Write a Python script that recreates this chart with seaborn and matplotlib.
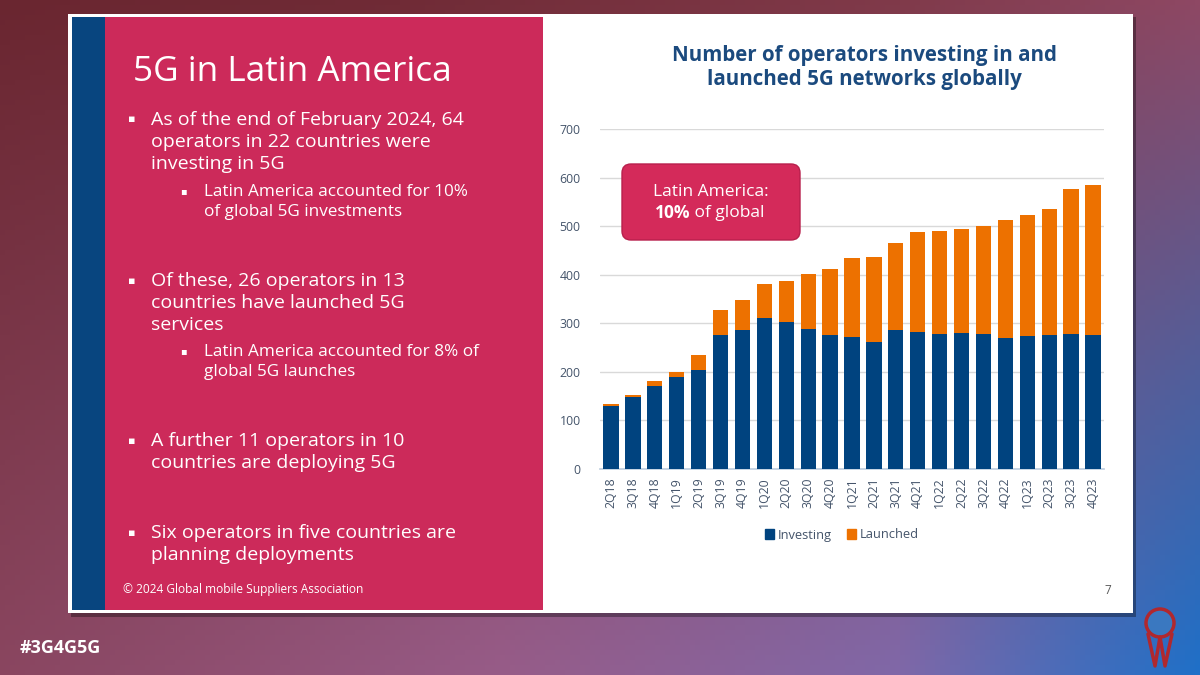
import numpy as np
import pandas as pd
import seaborn as sns
import matplotlib.pyplot as plt
from matplotlib.patches import Rectangle, FancyBboxPatch, Patch, Circle

# data
quarters = ["2Q18", "3Q18", "4Q18", "1Q19", "2Q19", "3Q19", "4Q19", "1Q20",
            "2Q20", "3Q20", "4Q20", "1Q21", "2Q21", "3Q21", "4Q21", "1Q22",
            "2Q22", "3Q22", "4Q22", "1Q23", "2Q23", "3Q23", "4Q23"]
investing = [130, 148, 171, 190, 204, 276, 286, 310, 303, 288, 275, 272,
             262, 286, 282, 277, 279, 277, 270, 273, 275, 277, 275]
launched = [3, 5, 10, 10, 30, 51, 61, 71, 84, 113, 136, 162,
            175, 179, 206, 213, 216, 223, 243, 250, 260, 300, 309]

bullets = [
    (120, ["As of the end of February 2024, 64", "operators in 22 countries were", "investing in 5G"]),
    (281, ["Of these, 26 operators in 13", "countries have launched 5G", "services"]),
    (441, ["A further 11 operators in 10", "countries are deploying 5G"]),
    (533, ["Six operators in five countries are", "planning deployments"]),
]
subbullets = [
    (192, ["Latin America accounted for 10%", "of global 5G investments"]),
    (352, ["Latin America accounted for 8% of", "global 5G launches"]),
]

df = pd.DataFrame({"quarter": quarters, "investing": investing, "launched": launched})
df["total"] = df["investing"] + df["launched"]

BLUE = "#00437f"
ORANGE = "#ed7100"
CRIMSON = "#cc2a5a"
TICK = "#44546a"

sns.set_theme(style="white")
plt.rcParams["font.family"] = ["Open Sans", "DejaVu Sans"]

fig = plt.figure(figsize=(12, 6.75), dpi=100)

# background axes in pixel coordinates
bg = fig.add_axes([0, 0, 1, 1], zorder=0)
bg.set_xlim(0, 1200)
bg.set_ylim(675, 0)
bg.axis("off")

# gradient background
xs = np.linspace(0, 1200, 240)
top = np.array([np.interp(xs, [0, 400, 900, 1200], c) for c in
                zip(*[(0x6a, 0x26, 0x30), (0x70, 0x2b, 0x36), (0x80, 0x3a, 0x4a), (0x8e, 0x48, 0x64)])]).T
bot = np.array([np.interp(xs, [0, 500, 900, 1200], c) for c in
                zip(*[(0x8a, 0x46, 0x60), (0x97, 0x5c, 0x88), (0x80, 0x68, 0xa8), (0x1f, 0x70, 0xc8)])]).T
t = np.linspace(0, 1, 135)[:, None, None]
grad = ((1 - t) * top[None] + t * bot[None]) / 255
bg.imshow(grad, extent=(0, 1200, 675, 0), aspect="auto", zorder=0)

# slide
bg.add_patch(Rectangle((71, 17), 1065, 600, color="#00000055", lw=0, zorder=1))
bg.add_patch(Rectangle((68, 14), 1065, 599, color="white", lw=0, zorder=2))
bg.add_patch(Rectangle((72, 17), 34, 593, color="#08457f", lw=0, zorder=3))
bg.add_patch(Rectangle((105, 17), 438, 593, color=CRIMSON, lw=0, zorder=3))

bg.text(133, 72, "5G in Latin America", color="white", fontsize=25.3, va="center", zorder=4)
for y0, lines in bullets:
    bg.text(128, y0, "\u25aa", color="white", fontsize=8, va="center", zorder=4)
    for i, line in enumerate(lines):
        bg.text(151, y0 + i * 22, line, color="white", fontsize=14, va="center", zorder=4)
for y0, lines in subbullets:
    bg.text(180, y0, "\u25aa", color="white", fontsize=7, va="center", zorder=4)
    for i, line in enumerate(lines):
        bg.text(204, y0 + i * 20, line, color="white", fontsize=12.3, va="center", zorder=4)
bg.text(123, 590, "\u00a9 2024 Global mobile Suppliers Association", color="white",
        fontsize=8.6, va="center", zorder=4)
bg.text(1111, 590, "7", color="#595959", fontsize=8.5, ha="right", va="center", zorder=4)

bg.text(864, 55, "Number of operators investing in and", color="#1b4a7e", fontsize=14.8,
        fontweight="bold", ha="center", va="center", zorder=4)
bg.text(864, 80, "launched 5G networks globally", color="#1b4a7e", fontsize=14.8,
        fontweight="bold", ha="center", va="center", zorder=4)

bg.text(20, 648, "#3G4G5G", color="white", fontsize=13, fontweight="bold", va="center", zorder=4)

# rough logo
bg.add_patch(Circle((1160, 623), 14, color="#3a78c0", zorder=4))
bg.add_patch(Circle((1160, 623), 14, fill=False, ec="#b0282e", lw=2.5, zorder=5))
bg.plot([1148, 1155, 1160, 1165, 1172], [634, 666, 637, 666, 634], color="#b0282e", lw=2.5, zorder=4)

# chart axes
ax = fig.add_axes([600 / 1200, 1 - 469 / 675, 504 / 1200, 340 / 675], zorder=1)
ax.set_facecolor("none")
sns.barplot(data=df, x="quarter", y="total", color=ORANGE, width=0.7, saturation=1,
            linewidth=0, ax=ax, zorder=3)
sns.barplot(data=df, x="quarter", y="investing", color=BLUE, width=0.7, saturation=1,
            linewidth=0, ax=ax, zorder=3)
ax.set_ylim(0, 700)
ax.set_xlim(-0.5, len(quarters) - 0.5)
ax.set_yticks(range(0, 701, 100))
ax.yaxis.grid(True, color="#d9d9d9", lw=1, zorder=0)
ax.set_axisbelow(True)
for s in ["top", "right", "left"]:
    ax.spines[s].set_visible(False)
ax.spines["bottom"].set_color("#bfcfe0")
ax.set_xlabel("")
ax.set_ylabel("")
ax.tick_params(axis="x", rotation=90, labelsize=8.8, labelcolor=TICK, length=0, pad=6)
ax.tick_params(axis="y", labelsize=8.8, labelcolor=TICK, length=0, pad=14)

handles = [Patch(color=BLUE, label="Investing"), Patch(color=ORANGE, label="Launched")]
fig.legend(handles=handles, loc="center", bbox_to_anchor=(842 / 1200, 1 - 535 / 675), ncol=2,
           frameon=False, fontsize=9.3, handlelength=0.7, handleheight=0.7, handletextpad=0.3,
           columnspacing=1.2, labelcolor=TICK)

# callout on top of the chart
ov = fig.add_axes([0, 0, 1, 1], zorder=2)
ov.set_xlim(0, 1200)
ov.set_ylim(675, 0)
ov.axis("off")
ov.add_patch(FancyBboxPatch((622, 164), 178, 76, boxstyle="round,pad=0,rounding_size=9",
                            fc="#d42a5a", ec="#b81f4c", lw=1))
ov.text(711, 192, "Latin America:", color="white", fontsize=12.5, ha="center", va="center")
ov.text(690, 213, "10%", color="white", fontsize=12.5, fontweight="bold", ha="right", va="center")
ov.text(690, 213, " of global", color="white", fontsize=12.5, ha="left", va="center")

fig.savefig("out.png", dpi=100)
